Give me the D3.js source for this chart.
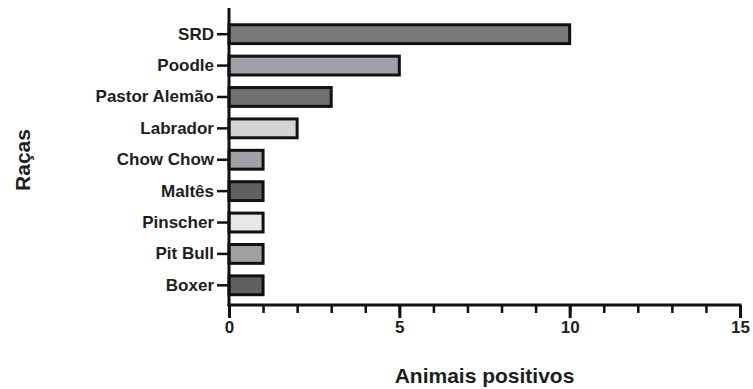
<!DOCTYPE html>
<html>
<head>
<meta charset="utf-8">
<script src="https://cdn.jsdelivr.net/npm/d3@7"></script>
<style>
  body { margin: 0; background: #fff; }
  svg text { font-family: "Liberation Sans", Arial, sans-serif; font-weight: bold; fill: #1e1e1e; }
</style>
</head>
<body>
<div class="container"></div>
<script>
const w = 753;
const h = 389;

// Data
const racas = ['SRD', 'Poodle', 'Pastor Alemão', 'Labrador', 'Chow Chow', 'Maltês', 'Pinscher', 'Pit Bull', 'Boxer'];
const positivos = [10, 5, 3, 2, 1, 1, 1, 1, 1];
const cores = ['#7a7a7a', '#a0a0a8', '#707070', '#d4d4d4', '#a0a0a8', '#606060', '#e8e8e8', '#a0a0a0', '#606060'];
const xTicks = [0, 5, 10, 15];

const dataset = racas.map((r, i) => ({ raca: r, n: positivos[i], cor: cores[i] }));

const svg = d3.select('.container')
  .append('svg')
  .attr('width', w)
  .attr('height', h)
  .style('display', 'block');

// Scales
const xScale = d3.scaleLinear()
  .domain([0, 15])
  .range([229, 740]);

const yScale = d3.scaleBand()
  .domain(racas)
  .range([18.5, 301])
  .paddingInner(0.4)
  .paddingOuter(0.2);

// Bars
svg.selectAll('.bar')
  .data(dataset)
  .enter()
  .append('rect')
  .attr('class', 'bar')
  .attr('x', xScale(0))
  .attr('y', (d) => yScale(d.raca))
  .attr('width', (d) => xScale(d.n) - xScale(0))
  .attr('height', yScale.bandwidth())
  .style('fill', (d) => d.cor)
  .style('stroke', '#111')
  .style('stroke-width', 3);

// Y axis
const yAxis = d3.axisLeft(yScale).tickSize(12).tickPadding(3);
const gy = svg.append('g')
  .attr('id', 'y-axis')
  .attr('transform', 'translate(' + xScale(0) + ',0)')
  .call(yAxis);
gy.select('.domain').remove();
gy.selectAll('.tick line').attr('stroke', '#111').attr('stroke-width', 2.5);
gy.selectAll('.tick text').style('font-size', '17px');
svg.append('line')
  .attr('x1', xScale(0)).attr('x2', xScale(0))
  .attr('y1', 8).attr('y2', 306)
  .attr('stroke', '#111')
  .attr('stroke-width', 3);

// X axis: minor ticks every unit, major at 0, 5, 10, 15
const xAxisY = 305;
const gxMinor = svg.append('g')
  .attr('transform', 'translate(0,' + xAxisY + ')')
  .call(d3.axisBottom(xScale).tickValues(d3.range(0, 16)).tickSize(8).tickFormat(''));
gxMinor.select('.domain').remove();
gxMinor.selectAll('.tick line').attr('stroke', '#111').attr('stroke-width', 2.5);

const gx = svg.append('g')
  .attr('id', 'x-axis')
  .attr('transform', 'translate(0,' + xAxisY + ')')
  .call(d3.axisBottom(xScale).tickValues(xTicks).tickSize(13).tickPadding(3).tickFormat(d3.format('d')));
gx.select('.domain').remove();
gx.selectAll('.tick line').attr('stroke', '#111').attr('stroke-width', 3);
gx.selectAll('.tick text').style('font-size', '17px');
svg.append('line')
  .attr('x1', xScale(0) - 1.5).attr('x2', xScale(15) + 1.5)
  .attr('y1', xAxisY).attr('y2', xAxisY)
  .attr('stroke', '#111')
  .attr('stroke-width', 3);

// Axis titles
svg.append('text')
  .attr('x', (xScale(0) + xScale(15)) / 2)
  .attr('y', 383)
  .attr('text-anchor', 'middle')
  .style('font-size', '21px')
  .text('Animais positivos');

svg.append('text')
  .attr('transform', 'translate(30,160) rotate(-90)')
  .attr('text-anchor', 'middle')
  .style('font-size', '21px')
  .text('Raças');
</script>
</body>
</html>
